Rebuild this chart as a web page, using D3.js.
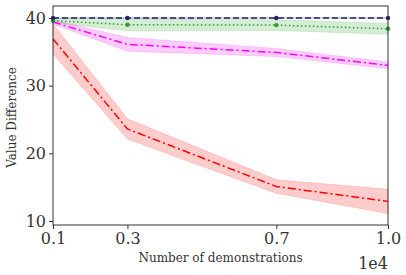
<!DOCTYPE html>
<html>
<head>
<meta charset="utf-8">
<script src="https://cdn.jsdelivr.net/npm/d3@7"></script>
<style>
  body { margin: 0; background: #fff; }
  text { font-family: "DejaVu Serif", "Liberation Serif", serif; }
</style>
</head>
<body>
<div id="chart-container"></div>
<script>
// Data
const demos = [0.1, 0.3, 0.7, 1.0];
const xTicks = [0.1, 0.3, 0.7, 1.0];
const yTicks = [10, 20, 30, 40];

const navyMean = [40.0, 40.0, 40.0, 40.0];
const navyErr = [0.05, 0.05, 0.05, 0.05];
const greenMean = [39.6, 39.0, 38.95, 38.4];
const greenErr = [0.3, 0.9, 0.8, 0.8];
const magentaMean = [39.4, 36.1, 34.9, 33.0];
const magentaErr = [0.3, 1.0, 0.6, 0.5];
const redMean = [36.9, 23.6, 15.1, 12.9];
const redErr = [2.2, 1.5, 1.0, 1.8];

const margin = { top: 6, right: 18, bottom: 50, left: 53 };
const width = 406 - margin.left - margin.right;
const height = 275 - margin.top - margin.bottom;

const svg = d3.select("#chart-container")
    .append("svg")
    .attr("width", 406)
    .attr("height", 275)
    .append("g")
    .attr("transform", `translate(${margin.left},${margin.top})`);

const xScale = d3.scaleLinear().domain([0.1, 1.0]).range([0, width]);
const yScale = d3.scaleLinear().domain([9.41, 41.77]).range([height, 0]);

const series = [
    { mean: redMean, err: redErr, color: "#ff0000", dash: "8,3,2,3", marker: false },
    { mean: magentaMean, err: magentaErr, color: "#ff00ff", dash: "8,3,2,3", marker: false },
    { mean: greenMean, err: greenErr, color: "#2ca02c", dash: "1.5,2.5", marker: true },
    { mean: navyMean, err: navyErr, color: "#1f1f6e", dash: "6,3", marker: true }
];

const area = d3.area()
    .x((d, i) => xScale(demos[i]))
    .y0(d => yScale(d[0] - d[1]))
    .y1(d => yScale(d[0] + d[1]));

const line = d3.line()
    .x((d, i) => xScale(demos[i]))
    .y(d => yScale(d));

series.forEach(s => {
    svg.append("path")
        .datum(s.mean.map((m, i) => [m, s.err[i]]))
        .attr("d", area)
        .attr("fill", s.color)
        .attr("fill-opacity", 0.2)
        .attr("stroke", s.color)
        .attr("stroke-opacity", 0.15);
});

series.forEach(s => {
    svg.append("path")
        .datum(s.mean)
        .attr("d", line)
        .attr("fill", "none")
        .attr("stroke", s.color)
        .attr("stroke-width", 1.5)
        .attr("stroke-dasharray", s.dash);
    if (s.marker) {
        svg.selectAll(null)
            .data(s.mean)
            .enter().append("circle")
            .attr("cx", (d, i) => xScale(demos[i]))
            .attr("cy", d => yScale(d))
            .attr("r", 2.2)
            .attr("fill", s.color);
    }
});

// Axes
const xAxis = d3.axisBottom(xScale).tickValues(xTicks).tickFormat(d3.format(".1f")).tickSize(4).tickPadding(4);
const yAxis = d3.axisLeft(yScale).tickValues(yTicks).tickSize(4).tickPadding(3);

const gx = svg.append("g")
    .attr("transform", `translate(0, ${height})`)
    .call(xAxis);
const gy = svg.append("g").call(yAxis);

[gx, gy].forEach(g => {
    g.attr("font-family", null);
    g.select(".domain").remove();
    g.selectAll("line").attr("stroke", "#333");
    g.selectAll("text")
        .attr("fill", "#333")
        .style("font-size", "16px");
});

// Frame
svg.append("rect")
    .attr("x", 0).attr("y", 0)
    .attr("width", width).attr("height", height)
    .attr("fill", "none")
    .attr("stroke", "#333")
    .attr("stroke-width", 1);

// Labels
svg.append("text")
    .attr("x", width / 2)
    .attr("y", height + 37)
    .attr("text-anchor", "middle")
    .attr("fill", "#333")
    .style("font-size", "12px")
    .text("Number of demonstrations");

svg.append("text")
    .attr("transform", `translate(${-37}, ${height / 2 + 2}) rotate(-90)`)
    .attr("text-anchor", "middle")
    .attr("fill", "#333")
    .style("font-size", "12px")
    .text("Value Difference");

svg.append("text")
    .attr("x", width)
    .attr("y", height + 44)
    .attr("text-anchor", "end")
    .attr("fill", "#333")
    .style("font-size", "16px")
    .text("1e4");
</script>
</body>
</html>
